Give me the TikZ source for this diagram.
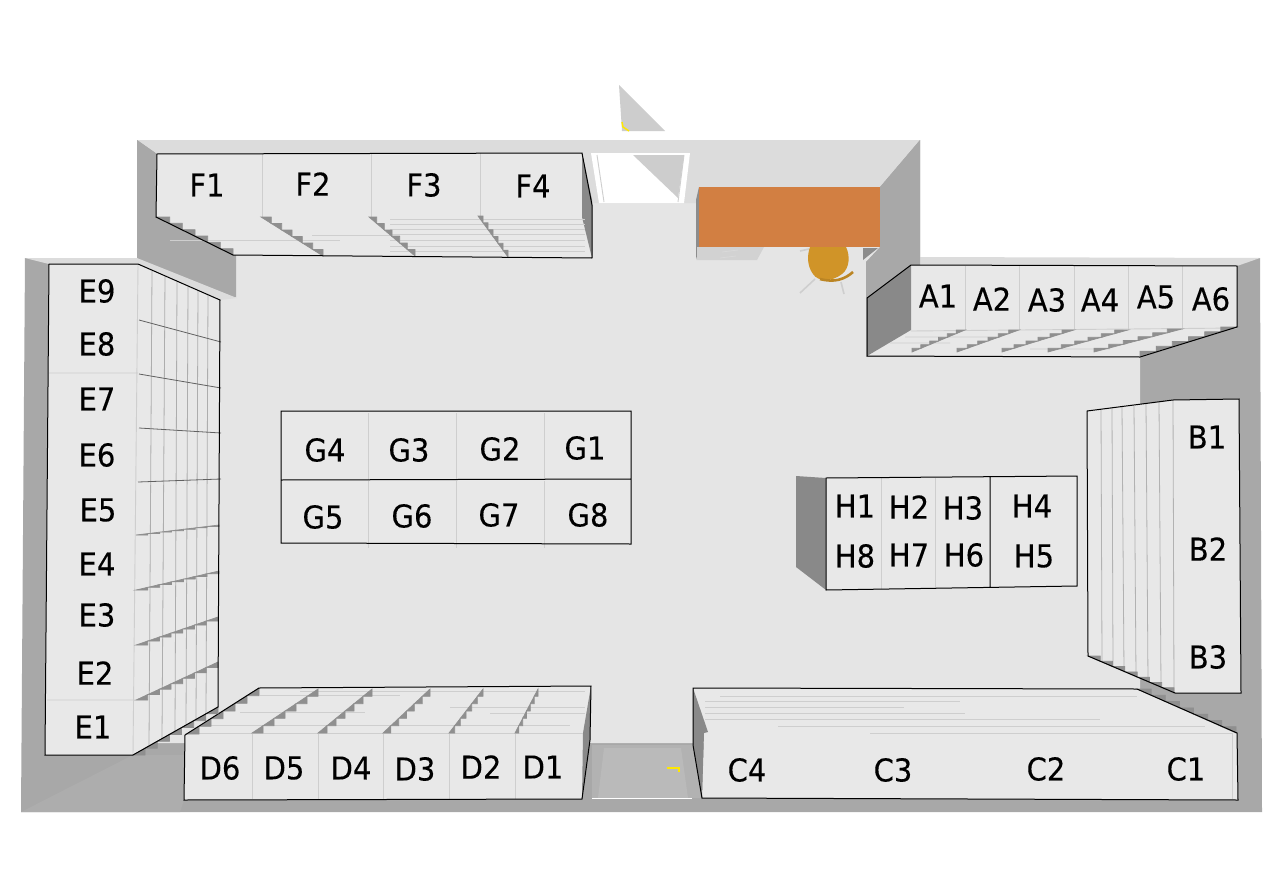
\documentclass[tikz,border=0pt]{standalone}
\usepackage{fontspec}
\setmainfont{DejaVu Sans}[FakeStretch=0.92,FakeBold=0.2]
\definecolor{floorc}{HTML}{E5E5E5}
\definecolor{wallc}{HTML}{A8A8A8}
\definecolor{stripc}{HTML}{DCDCDC}
\definecolor{sidec}{HTML}{898989}
\definecolor{facec}{HTML}{E8E8E8}
\definecolor{faintc}{HTML}{CECECE}
\definecolor{stepdark}{HTML}{8F8F8F}
\definecolor{deskc}{HTML}{D27F42}
\definecolor{chairc}{HTML}{D09428}
\definecolor{glassc}{HTML}{CDCDCD}
\tikzset{
  lab/.style={inner sep=0pt,font=\fontsize{31.5}{32}\selectfont},
  outl/.style={draw=black,line width=1pt},
  faint/.style={draw=faintc,line width=0.9pt},
  shelfline/.style={draw=black!62,line width=0.8pt},
  stepfill/.style={fill=stepdark,draw=stepdark,line width=0.7pt},
}
\newcommand{\stairs}[5]{%
  \foreach \s in {1,...,#5}{%
    \pgfmathsetmacro\xa{#1+(#3-#1)*(\s-1)/#5}%
    \pgfmathsetmacro\ya{#2+(#4-#2)*(\s-1)/#5}%
    \pgfmathsetmacro\xb{#1+(#3-#1)*\s/#5}%
    \pgfmathsetmacro\yb{#2+(#4-#2)*\s/#5}%
    \filldraw[stepfill] (\xa,\ya)--(\xb,\ya)--(\xb,\yb)--cycle;
  }%
}
\begin{document}
\begin{tikzpicture}[x=1pt,y=-1pt]
\useasboundingbox (0,0) rectangle (1285,875);
\fill[white] (0,0) rectangle (1285,875);
% outer walls
\fill[wallc] (137,140)--(920,140)--(920,265)--(1260,258)--(1262,812)--(21,812)--(25,258)--(137,258)--cycle;
% floor
\fill[floorc] (236,297)--(236,150)--(880,150)--(880,248)--(866,262)--(866,357)--(1140,357)--(1140,743)--(140,743)--(140,297)--cycle;
% top strips
\fill[stripc] (137,140)--(920,140)--(880,187)--(699,187)--(699,203)--(592,203)--(582,153)--(157,154)--cycle;
\fill[stripc] (25,258)--(137,258)--(237,298)--(220,300)--(137,264)--(49,264)--cycle;
\fill[stripc] (911,265)--(920,257)--(1260,258)--(1237,266)--cycle;
% upper right wall
\fill[wallc] (920,140)--(880,187)--(880,247)--(866,262)--(866,298)--(911,265)--(920,265)--cycle;
\fill[black!45] (863,248)--(878,248)--(863,260)--cycle;
% F dark wall
\fill[wallc] (137,140)--(157,154)--(156,217)--(236,256)--(236,297)--(137,257)--cycle;
% bottom left lighter shade
\fill[black!32] (21,812)--(133,755)--(184,755)--(184,800)--(180,812)--cycle;
% door top
\fill[glassc] (619,85)--(665,131)--(622,131)--cycle;
\draw[yellow!90!orange,line width=1.5pt] (622,122)--(623,127)--(629,131);
\fill[white] (591,153)--(690,153)--(684,203)--(599,203)--cycle;
\fill[glassc] (633,155)--(684,155)--(678,198)--cycle;
\draw[faintc,line width=0.9pt] (597,155)--(604,202);
\draw[faintc,line width=0.9pt] (684,155)--(678,202);
% desk
\fill[black!45] (699,187)--(696,200)--(696,260)--(699,247)--cycle;
\fill[glassc!90!white] (697,247)--(764,247)--(757,260)--(697,260)--cycle;
\draw[white!85!black,line width=0.8pt] (722,252)--(738,250) (720,258)--(736,256);
\fill[deskc] (699,187) rectangle (880,247);
% chair
\draw[faintc,line width=1.6pt] (800,293)--(815,279) (841,282)--(844,294) (800,251)--(809,249);
\fill[chairc] (810,247)--(846,247) .. controls (850,255) and (850,268) .. (842,274) .. controls (832,282) and (818,282) .. (813,274) .. controls (807,266) and (807,255) .. (810,247)--cycle;
\draw[chairc!90!black,line width=2.6pt] (820,279) .. controls (835,283) and (845,279) .. (853,272);
% door bottom
\fill[black!30] (592,745)--(693,745)--(701,798)--(592,798)--cycle;
\fill[black!27] (604,748)--(681,748)--(688,798)--(598,798)--cycle;
\draw[white,line width=1pt] (592,798)--(692,798);
\draw[yellow!90!orange,line width=1.3pt] (667,768)--(679,768)--(679,772);
% F block
\fill[facec] (157,154)--(582,153)--(592,205)--(592,258)--(233,255)--(156,217)--cycle;
\fill[sidec] (582,153)--(592,200)--(592,258)--(582,217)--cycle;
\foreach \xd in {262,371,480}{\draw[faint] (\xd,153)--(\xd,217);}
\draw[faint] (170,240)--(340,240) (312,235)--(400,235);
\foreach \yy in {219,224,229,234,240,246,251}{\draw[faint] (390,\yy)--(585,\yy);}
\stairs{157}{217}{233}{255}{6}
\stairs{261}{217}{323}{256}{6}
\stairs{369}{217}{415}{256}{6}
\stairs{478}{216}{508}{257}{6}
\draw[outl,line join=miter] (592,258)--(233,255)--(156,217)--(157,154)--(582,153)--(592,205)--(592,258);
% A block
\fill[facec] (911,265)--(1237,266)--(1237,327)--(1140,357)--(867,356)--(867,298)--cycle;
\fill[sidec] (867,298)--(911,265)--(911,330)--(867,356)--cycle;
\foreach \xd in {965,1019,1074,1128,1182}{\draw[faint] (\xd,266)--(\xd,330);}
\draw[faint] (911,331)--(1237,328) (890,343)--(950,343) (1030,349)--(1110,349) (905,337)--(1000,337);
\stairs{965}{330}{912}{352}{6}
\stairs{1019}{330}{957}{352}{6}
\stairs{1074}{330}{1002}{352}{6}
\stairs{1128}{330}{1048}{352}{6}
\stairs{1182}{329}{1094}{352}{6}
\stairs{1237}{327}{1140}{356}{6}
\draw[outl] (867,298)--(911,265)--(1237,266)--(1237,327)--(1140,357)--(867,356)--cycle;
% C block
\fill[facec] (693,688)--(1137,689)--(1237,733)--(1238,800)--(702,798)--(704,733)--cycle;
\fill[sidec] (693,688)--(708,732)--(704,733)--(702,798)--(693,745)--cycle;
\draw[faint] (720,696)--(1137,696) (705,701)--(960,701) (705,707)--(904,707) (705,713)--(965,713) (705,719)--(1100,719) (778,726)--(1205,726) (870,733)--(1232,733);
\draw[faint] (1232,733)--(1232,799);
\stairs{1137}{689}{1236}{733}{7}
\draw[outl] (702,798)--(693,745)--(693,688)--(1137,689)--(1237,733)--(1238,800)--cycle;
% D block
\fill[facec] (259,688)--(591,686)--(590,740)--(582,799)--(184,800)--(185,735)--cycle;
\fill[sidec] (591,686)--(583,733)--(582,799)--(590,740)--cycle;
\draw[faint] (185,733)--(583,733);
\foreach \xd in {252,318,383,449,515}{\draw[faint] (\xd,733)--(\xd,799);}
\draw[faint] (200,725)--(570,725) (240,712)--(365,712) (450,707)--(585,707) (490,713)--(585,713) (260,695)--(400,695) (300,691)--(585,691);
\stairs{187}{734}{259}{688}{6}
\stairs{252}{733}{318}{689}{6}
\stairs{318}{733}{372}{689}{6}
\stairs{383}{733}{430}{689}{6}
\stairs{449}{733}{483}{689}{6}
\stairs{515}{733}{538}{689}{6}
\draw[outl] (259,688)--(591,686)--(590,740)--(582,799)--(184,800)--(185,735)--cycle;
% E block
\fill[facec] (49,264)--(138,264)--(220,300)--(218,707)--(133,755)--(45,755)--cycle;
\draw[faint] (49,373)--(138,373) (47,700)--(135,700) (138,265)--(133,755);
\foreach \xt/\xb [evaluate=\xt as \yt using 265+(\xt-138)*35/82, evaluate=\xb as \yb using 755-(\xb-133)*48/85] in {152/149,165/162,177/175,188/186,198/196,208/206}{\draw[draw=black!32,line width=0.8pt] (\xt,\yt)--(\xb,\yb);}
\stairs{136}{535}{219}{525}{7}
\stairs{136}{590}{219}{571}{7}
\stairs{136}{645}{218}{617}{7}
\stairs{136}{700}{218}{662}{7}
\stairs{133}{755}{218}{707}{7}
\draw[shelfline] (139,320)--(221,342) (139,374)--(221,388) (139,428)--(221,433) (138,482)--(221,479);
\draw[outl] (49,264)--(138,264)--(220,300)--(218,707)--(133,755)--(45,755)--cycle;
% B block
\fill[facec] (1087,411)--(1173,400)--(1239,399)--(1241,693)--(1175,693)--(1088,656)--cycle;
\foreach \xt/\yt/\xb/\yb in {1101/409/1102/662,1112/408/1113/667,1122/407/1124/672,1134/406/1136/677,1146/404/1148/682,1159/402/1161/687,1173/400/1174/693}{\draw[draw=black!30,line width=0.8pt] (\xt,\yt)--(\xb,\yb);}
\stairs{1088}{656}{1174}{693}{7}
\draw[outl] (1173,400)--(1239,399)--(1241,693)--(1175,693)--(1088,656)--(1087,411)--cycle;
% H block
\fill[sidec] (796,476)--(826,478)--(826,590)--(796,567)--cycle;
\fill[facec] (826,478)--(1077,476)--(1077,586)--(826,590)--cycle;
\draw[faint] (881,478)--(881,589) (935,478)--(935,588);
\draw[outl] (826,478)--(1077,476)--(1077,586)--(826,590)--cycle (990,477)--(990,587);
% G block
\fill[facec] (281,411)--(631,411)--(631,544)--(281,543)--cycle;
\foreach \xd in {368,456,544}{\draw[faint] (\xd,413)--(\xd,480) (\xd,481)--(\xd,548);}
\draw[outl] (281,411)--(631,411)--(631,544)--(281,543)--cycle (281,480)--(631,479);
% labels
\foreach \n/\px/\py in {A1/938/296,A2/992/299,A3/1047/300,A4/1100/300,A5/1156/297,A6/1211/299,
 B1/1207/437,B2/1208/549,B3/1208/657,
 C1/1186/769,C2/1046/769,C3/893/770,C4/747/770,
 D1/543/767,D2/481/767,D3/415/769,D4/351/768,D5/284/768,D6/220/768,
 E1/93/727,E2/95/673,E3/97/615,E4/97/564,E5/98/510,E6/97/455,E7/97/399,E8/97/344,E9/97/291,
 F1/207/185,F2/313/184,F3/424/185,F4/533/186,
 G1/585/448,G2/500/449,G3/409/450,G4/325/450,G5/323/517,G6/412/516,G7/499/515,G8/588/515,
 H1/855/506,H2/909/507,H3/963/508,H4/1032/506,H5/1034/556,H6/964/555,H7/909/555,H8/855/556}
 {\node[lab] (\n) at (\px,\py) {\n};}
\end{tikzpicture}
\end{document}
